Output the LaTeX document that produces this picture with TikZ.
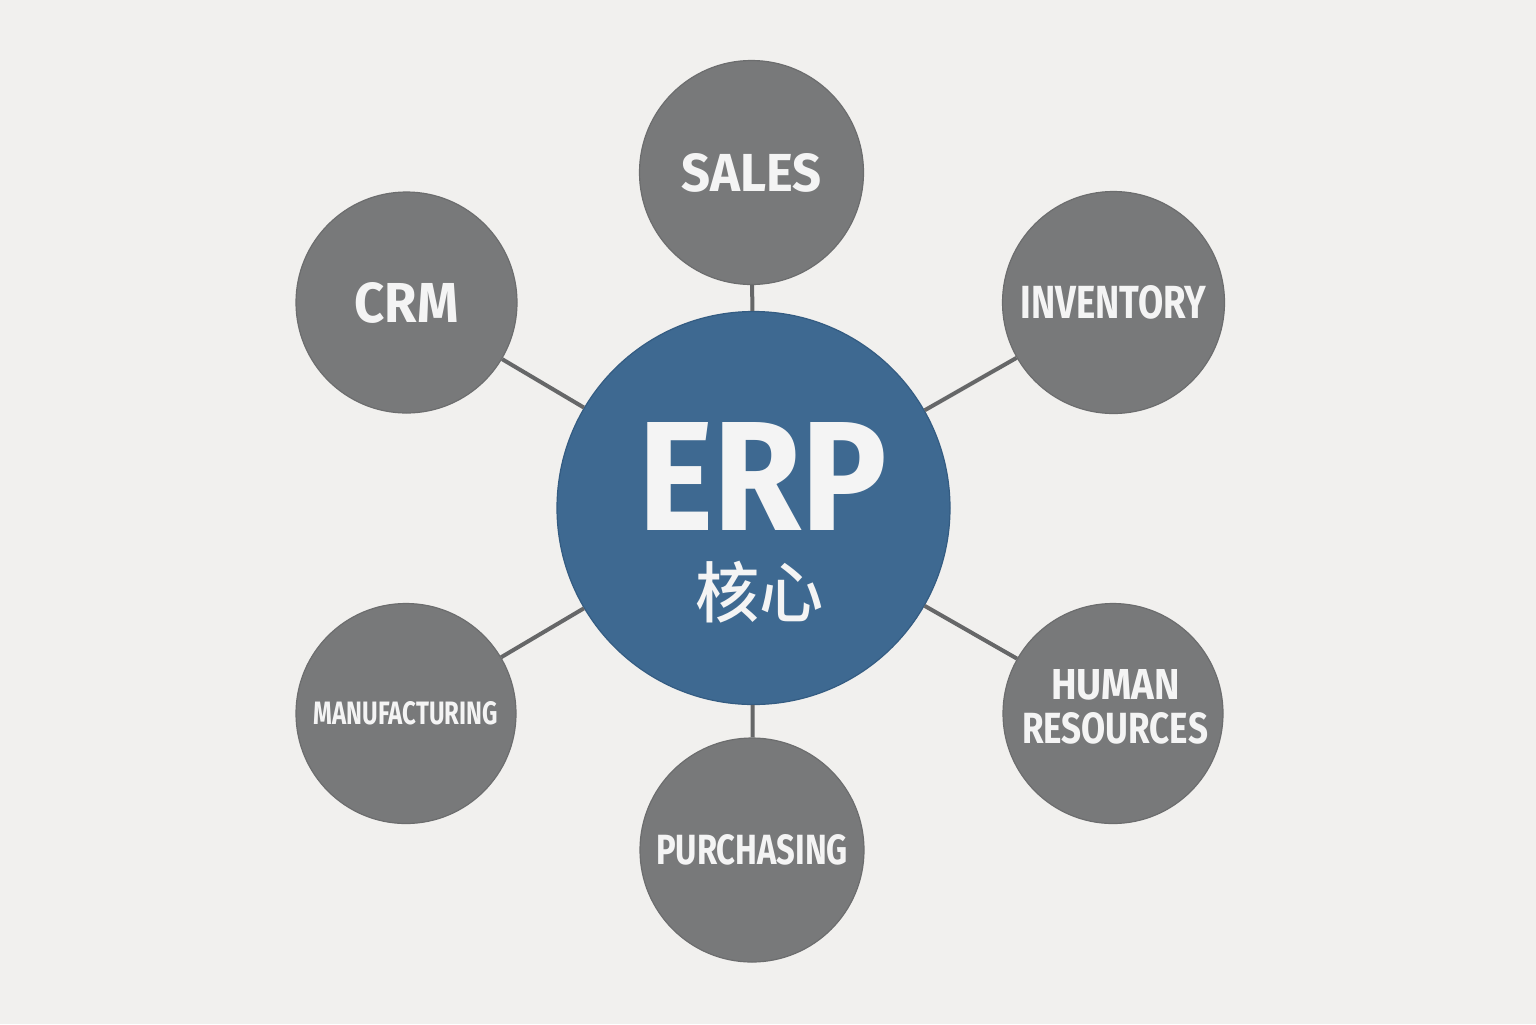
\documentclass[tikz,border=0pt]{standalone}
\usepackage{fontspec}
\setmainfont{Fira Sans}
\newfontfamily\cjk{Noto Sans CJK SC Medium}
\usepackage{graphicx}
\definecolor{bgc}{HTML}{F1F0EE}
\definecolor{satfill}{HTML}{78797A}
\definecolor{satdraw}{HTML}{6C6D6E}
\definecolor{erpfill}{HTML}{3E6991}
\definecolor{erpdraw}{HTML}{345C82}
\definecolor{linkc}{HTML}{666768}
\definecolor{txtc}{HTML}{F4F4F4}
\newcommand{\lbl}[3]{\resizebox{#1}{#2}{\bfseries #3}}
\tikzset{
  sat/.style={circle, fill=satfill, draw=satdraw, line width=0.6pt, inner sep=0pt, text=txtc, align=center},
  core/.style={circle, fill=erpfill, draw=erpdraw, line width=0.6pt, inner sep=0pt},
  txt/.style={inner sep=0pt, text=txtc},
  link/.style={draw=linkc, line width=2pt}
}
\begin{document}
\begin{tikzpicture}[x=0.5pt, y=-0.5pt]
\fill[bgc] (0,0) rectangle (1536,1024);
\useasboundingbox (0,0) rectangle (1536,1024);
\node[core, minimum size=196.5pt] (erp) at (753.5,508) {};
\node[txt] (erpt) at (762.5,476) {\lbl{124.5pt}{54pt}{ERP}};
\node[txt] (coret) at (759,592) {\resizebox*{64pt}{31pt}{\cjk 核心}};
\node[sat, minimum size=112pt] (sales) at (751.5,172.5) {\lbl{70pt}{19pt}{SALES}};
\node[sat, minimum size=110.5pt] (crm) at (406.5,302.5) {\lbl{52pt}{20pt}{CRM}};
\node[sat, minimum size=111pt] (inv) at (1113.5,302.5) {\lbl{93pt}{16.5pt}{INVENTORY}};
\node[sat, minimum size=110pt] (manu) at (406,713.5) {\lbl{92pt}{11.5pt}{MANUFACTURING}};
\node[sat, minimum size=110pt] (hr) at (1113,713.5) {};
\node[txt] (hrt1) at (1115.5,685) {\lbl{64.5pt}{15pt}{HUMAN}};
\node[txt] (hrt2) at (1115,728.5) {\lbl{93pt}{15.5pt}{RESOURCES}};
\node[sat, minimum size=112pt] (purch) at (752,850) {\lbl{96pt}{15pt}{PURCHASING}};
\draw[link] (erp) -- (sales);
\draw[link] (erp) -- (crm);
\draw[link] (erp) -- (inv);
\draw[link] (erp) -- (manu);
\draw[link] (erp) -- (hr);
\draw[link] (erp) -- (purch);
\end{tikzpicture}
\end{document}
